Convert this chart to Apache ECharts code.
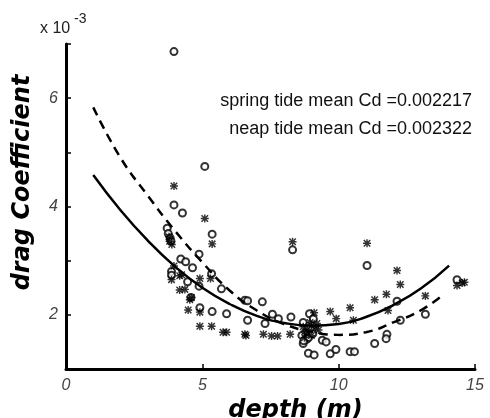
<!DOCTYPE html>
<html>
<head>
<meta charset="utf-8">
<script src="https://cdn.jsdelivr.net/npm/echarts@6/dist/echarts.min.js"></script>
<style>
    html, body { margin: 0; padding: 0; background: #fff; }
    #main { width: 490px; height: 418px; }
</style>
</head>
<body>
<div id="main"></div>
<script>
    // values in units of 1e-3
    const circlePts = [
        [3.96, 6.86], [5.09, 4.74], [3.96, 4.03], [4.27, 3.88], [3.71, 3.6], [5.36, 3.49],
        [3.75, 3.5], [3.82, 3.42], [3.85, 3.36], [4.88, 3.12], [4.21, 3.03], [4.39, 2.98],
        [4.64, 2.87], [3.87, 2.8], [3.87, 2.73], [5.34, 2.76], [4.46, 2.61], [4.88, 2.53],
        [5.7, 2.48], [4.58, 2.32], [6.56, 2.27], [6.66, 2.26], [4.91, 2.13], [5.36, 2.06],
        [5.89, 2.02], [6.66, 1.9], [8.31, 3.2], [7.2, 2.24], [7.57, 2.01], [7.79, 1.93],
        [7.3, 1.84], [8.25, 1.96], [8.93, 2.02], [9.07, 1.93], [8.7, 1.86], [8.7, 1.47],
        [8.83, 1.55], [8.77, 1.67], [8.65, 1.62], [8.72, 1.52], [8.9, 1.58], [9.05, 1.65],
        [9.4, 1.53], [9.54, 1.5], [8.89, 1.29], [9.1, 1.26], [9.69, 1.28], [9.9, 1.36],
        [10.42, 1.32], [10.58, 1.32], [11.04, 2.91], [12.14, 2.25], [13.18, 2.01],
        [12.26, 1.9], [11.77, 1.64], [11.74, 1.56], [11.32, 1.47], [14.34, 2.65]
    ];
    const starPts = [
        [3.96, 4.38], [5.09, 3.78], [5.36, 3.31], [3.78, 3.44], [3.8, 3.36], [3.88, 3.3],
        [3.96, 2.9], [3.87, 2.65], [4.17, 2.72], [4.24, 2.74], [4.91, 2.67], [5.3, 2.67],
        [4.17, 2.46], [4.36, 2.47], [4.54, 2.28], [4.6, 2.32], [4.48, 2.09], [4.91, 2.05],
        [4.91, 1.79], [5.34, 1.79], [5.76, 1.68], [5.89, 1.68], [6.56, 1.64], [6.6, 1.62],
        [7.24, 1.64], [7.54, 1.61], [7.76, 1.61], [8.22, 1.64], [8.31, 3.35], [9.1, 2.04],
        [9.69, 2.06], [10.42, 2.13], [9.91, 1.93], [10.54, 1.9], [8.7, 1.78], [8.85, 1.73],
        [9.0, 1.8], [9.14, 1.76], [9.26, 1.72], [9.0, 1.62], [8.8, 1.65], [9.2, 1.84],
        [8.95, 1.86], [8.75, 1.58], [11.04, 3.32], [12.14, 2.82], [12.26, 2.56],
        [11.32, 2.28], [11.75, 2.38], [11.81, 2.08], [13.18, 2.35], [14.34, 2.54],
        [14.53, 2.59], [14.61, 2.6]
    ];
    const solidCurve = [
        [1, 4.58], [2, 3.93], [3, 3.37], [4, 2.89], [5, 2.5], [6, 2.2], [7, 1.98],
        [8, 1.85], [9, 1.8], [10, 1.83], [11, 1.96], [12, 2.18], [13, 2.48], [14.05, 2.91]
    ];
    const dashCurve = [
        [1, 5.83], [2, 4.9], [3, 4.2], [4, 3.55], [5, 2.97], [6, 2.45], [7, 2.08],
        [8, 1.83], [9, 1.69], [10, 1.63], [11, 1.68], [12, 1.86], [13, 2.08], [13.85, 2.38]
    ];
    const xTicks = [0, 5, 10, 15];
    const yTicks = [1, 2, 3, 4, 5, 6, 7];
    const yLabelled = [2, 4, 6];
    const notes = ['spring tide mean Cd =0.002217', 'neap tide mean Cd =0.002322'];

    // eight-armed asterisk, like a matlab '*' marker
    const starPath = 'path://M0 4.1H10V5.9H0Z M4.1 0H5.9V10H4.1Z ' +
        'M1.6 0.3L9.7 8.4L8.4 9.7L0.3 1.6Z M8.4 0.3L9.7 1.6L1.6 9.7L0.3 8.4Z';

    const chart = echarts.init(document.getElementById('main'));
    const labelFont = { fontFamily: 'Liberation Sans', fontStyle: 'italic', fontSize: 16, color: '#444' };
    const titleFont = { fontFamily: 'DejaVu Sans', fontWeight: 'bold', fontStyle: 'italic', fontSize: 24, color: '#000' };

    let option = {
        animation: false,
        backgroundColor: '#fff',
        grid: { left: 66, right: 15, top: 44, bottom: 49, containLabel: false, outerBoundsMode: 'none' },
        xAxis: {
            type: 'value',
            min: xTicks[0],
            max: xTicks[xTicks.length - 1],
            interval: 5,
            name: 'depth (m)',
            nameLocation: 'middle',
            nameGap: 27,
            nameTextStyle: Object.assign({ padding: [0, 0, 0, 50] }, titleFont),
            axisLine: { show: true, onZero: false, lineStyle: { color: '#000', width: 3 } },
            axisTick: { inside: true, length: 5, lineStyle: { color: '#000', width: 1.5 } },
            axisLabel: Object.assign({ margin: 9 }, labelFont),
            splitLine: { show: false }
        },
        yAxis: {
            type: 'value',
            min: yTicks[0],
            max: yTicks[yTicks.length - 1],
            interval: 1,
            name: 'drag Coefficient',
            nameLocation: 'middle',
            nameGap: 31,
            nameTextStyle: Object.assign({ padding: [0, 0, 0, 48] }, titleFont),
            axisLine: { show: true, onZero: false, lineStyle: { color: '#000', width: 3 } },
            axisTick: { inside: true, length: 5, lineStyle: { color: '#000', width: 1.5 } },
            axisLabel: Object.assign({
                margin: 8,
                formatter: v => yLabelled.indexOf(v) >= 0 ? String(v) : ''
            }, labelFont),
            splitLine: { show: false }
        },
        graphic: [
            { type: 'text', left: 40, top: 21, style: { text: 'x 10', fontFamily: 'Liberation Sans', fontSize: 16, fill: '#222' } },
            { type: 'text', left: 74, top: 12, style: { text: '-3', fontFamily: 'Liberation Sans', fontSize: 14, fill: '#222' } },
            { type: 'text', right: 18, top: 92, style: { text: notes[0], fontFamily: 'Liberation Sans', fontSize: 18, fill: '#111', align: 'right' } },
            { type: 'text', right: 18, top: 120, style: { text: notes[1], fontFamily: 'Liberation Sans', fontSize: 18, fill: '#111', align: 'right' } }
        ],
        series: [
            {
                name: 'circles',
                type: 'scatter',
                data: circlePts,
                symbol: 'emptyCircle',
                symbolSize: 7,
                itemStyle: { color: '#000', borderColor: '#000', borderWidth: 1.1 }
            },
            {
                name: 'stars',
                type: 'scatter',
                data: starPts,
                symbol: starPath,
                symbolSize: 8,
                itemStyle: { color: '#000' }
            },
            {
                name: 'solid fit',
                type: 'line',
                data: solidCurve,
                smooth: true,
                showSymbol: false,
                lineStyle: { color: '#000', width: 2.5 }
            },
            {
                name: 'dashed fit',
                type: 'line',
                data: dashCurve,
                smooth: true,
                showSymbol: false,
                lineStyle: { color: '#000', width: 2.5, type: [9, 6] }
            }
        ]
    };
    chart.setOption(option);
</script>
</body>
</html>
